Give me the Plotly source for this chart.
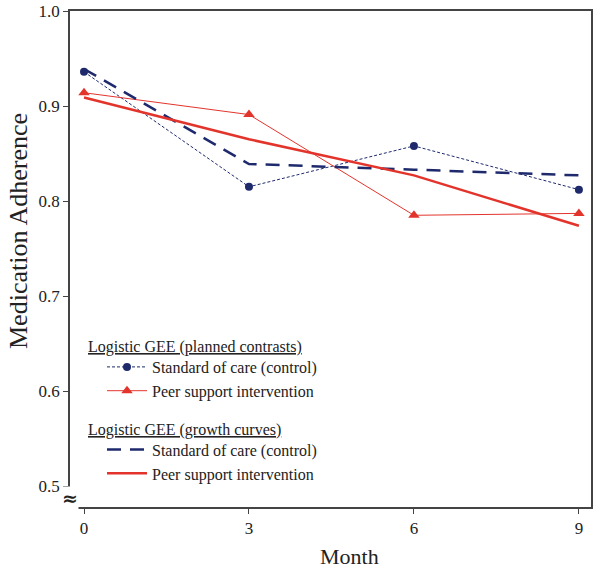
import plotly.graph_objects as go

months = [0, 3, 6, 9]
control_planned = [0.936, 0.815, 0.858, 0.812]
peer_planned = [0.914, 0.891, 0.785, 0.787]
control_growth = [0.939, 0.839, 0.833, 0.827]
peer_growth = [0.909, 0.865, 0.827, 0.774]

x_ticks = [0, 3, 6, 9]
y_ticks = [0.5, 0.6, 0.7, 0.8, 0.9, 1.0]
y_ticklabels = ["0.5", "0.6", "0.7", "0.8", "0.9", "1.0"]

group_titles = ["Logistic GEE (planned contrasts)", "Logistic GEE (growth curves)"]

NAVY = "#1e2a6c"
RED = "#e3342c"
TXT = "#222"
FONT = "Liberation Serif"

W, H = 600, 569
PL, PR, PT, PB = 70, 591, 11, 507   # plot area in window pixels
PW, PH = PR - PL, PB - PT


def px_x(x):
    return (x - PL) / PW


def px_y(y):
    return (PB - y) / PH


fig = go.Figure()

fig.add_trace(go.Scatter(
    x=months, y=control_planned, mode="lines+markers",
    name="Standard of care (control)",
    line=dict(color=NAVY, width=1, dash="3px,2px"),
    marker=dict(symbol="circle", size=8, color=NAVY),
    legendgroup="planned",
))
fig.add_trace(go.Scatter(
    x=months, y=peer_planned, mode="lines+markers",
    name="Peer support intervention",
    line=dict(color=RED, width=1),
    marker=dict(symbol="triangle-up", size=10, color=RED),
    legendgroup="planned",
))
fig.add_trace(go.Scatter(
    x=months, y=control_growth, mode="lines",
    name="Standard of care (control)",
    line=dict(color=NAVY, width=2.5, dash="14px,9px"),
    legendgroup="growth",
))
fig.add_trace(go.Scatter(
    x=months, y=peer_growth, mode="lines",
    name="Peer support intervention",
    line=dict(color=RED, width=2.5),
    legendgroup="growth",
))

axis_common = dict(
    showline=True, linecolor="#444", linewidth=1.5, mirror=True,
    showgrid=False, zeroline=False, automargin=False,
    ticks="outside", ticklen=5, tickcolor="#444", tickwidth=1,
    tickfont=dict(family=FONT, size=17, color=TXT),
)

fig.update_layout(
    width=W, height=H,
    margin=dict(l=PL, r=W - PR, t=PT, b=H - PB, autoexpand=False),
    paper_bgcolor="white", plot_bgcolor="white",
    showlegend=True,
    legend=dict(
        x=px_x(102), y=px_y(350), xanchor="left", yanchor="top",
        bgcolor="rgba(0,0,0,0)",
        font=dict(family=FONT, size=16, color=TXT),
        tracegroupgap=35, itemwidth=40,
    ),
    xaxis=dict(range=[-0.255, 9.22], tickvals=x_ticks, **axis_common),
    yaxis=dict(range=[0.478, 1.0], tickvals=y_ticks, ticktext=y_ticklabels, **axis_common),
)

for title, ypix in zip(group_titles, [347, 430]):
    fig.add_annotation(
        text=f"<span style='text-decoration:underline'>{title}</span>",
        xref="paper", yref="paper", x=px_x(86), y=px_y(ypix),
        xanchor="left", yanchor="middle", showarrow=False,
        font=dict(family=FONT, size=16, color=TXT))

fig.add_annotation(text="Medication Adherence", xref="paper", yref="paper",
                   x=px_x(18), y=px_y(231), textangle=-90, showarrow=False,
                   xanchor="center", yanchor="middle",
                   font=dict(family=FONT, size=26, color=TXT))
fig.add_annotation(text="Month", xref="paper", yref="paper",
                   x=px_x(349), y=px_y(556), showarrow=False,
                   xanchor="center", yanchor="middle",
                   font=dict(family=FONT, size=22, color=TXT))
fig.add_annotation(text="<b>≈</b>", xref="paper", yref="paper", x=px_x(70), y=px_y(498),
                   xanchor="center", yanchor="middle",
                   showarrow=False, bgcolor="white", borderpad=0,
                   font=dict(family="DejaVu Serif", size=19, color=TXT))

# Remove the default 8px body margin so the 600x569 figure fills the window exactly.
fig.write_html("out.html", config={"displayModeBar": False},
               post_script="document.body.style.margin='0px';")
